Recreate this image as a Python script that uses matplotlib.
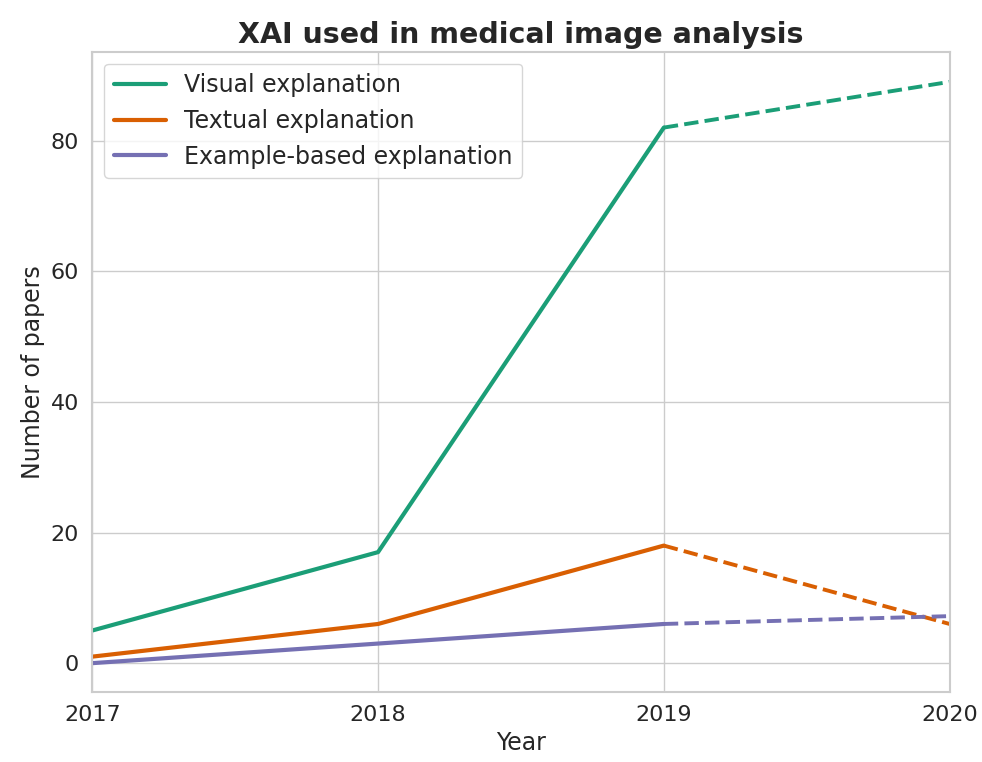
import matplotlib
matplotlib.use("Agg")
import matplotlib.pyplot as plt
import seaborn as sns

years = [2017, 2018, 2019, 2020]
visual = [5, 17, 82, 89]
textual = [1, 6, 18, 6]
example = [0, 3, 6, 7.2]
labels = ['Visual explanation', 'Textual explanation', 'Example-based explanation']

sns.set_theme(style="whitegrid")
plt.rcParams['font.family'] = ['DejaVu Sans']
colors = sns.color_palette("Dark2", 3)

fig, ax = plt.subplots(figsize=(9.82, 7.62), dpi=100)
# solid part up to 2019, dashed projection to 2020
for vals, lab, c in zip([visual, textual, example], labels, colors):
    ax.plot(years[:3], vals[:3], color=c, linewidth=3, label=lab)
    ax.plot(years[2:], vals[2:], color=c, linewidth=2.8, linestyle='--')

ax.set_xlim(2017, 2020)
ax.set_ylim(-4.4, 93.6)
ax.set_xticks(years)
ax.set_yticks([0, 20, 40, 60, 80])
ax.tick_params(labelsize=16, colors='#262626')
ax.set_xlabel('Year', fontsize=17, color='#262626')
ax.set_ylabel('Number of papers', fontsize=17, color='#262626')
ax.set_title('XAI used in medical image analysis', fontsize=20.5, fontweight='bold', color='#262626')
ax.legend(loc='upper left', fontsize=17, handlelength=2.2)
for s in ax.spines.values():
    s.set_color('#cccccc')
    s.set_linewidth(1.5)

fig.subplots_adjust(left=0.094, right=0.967, top=0.932, bottom=0.092)
fig.savefig('out.png', dpi=100)
